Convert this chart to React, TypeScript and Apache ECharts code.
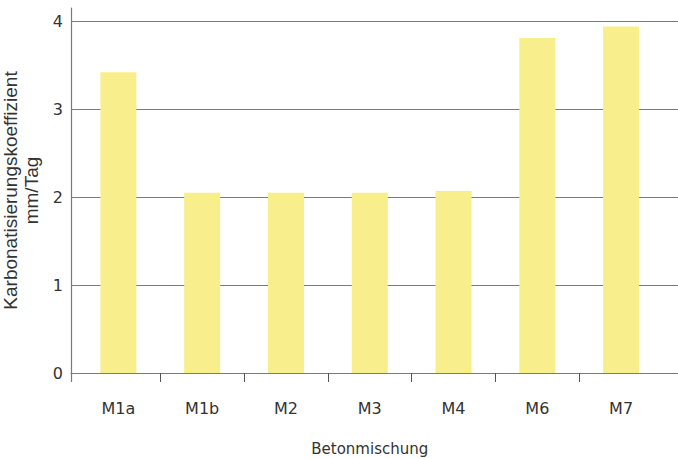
import React, { useEffect, useRef } from "react";
import * as echarts from "echarts";

const categories = ["M1a", "M1b", "M2", "M3", "M4", "M6", "M7"];
const values = [3.42, 2.05, 2.05, 2.05, 2.07, 3.81, 3.94];
const boundaryTicks = [0.5, 1.5, 2.5, 3.5, 4.5, 5.5];
const yTitle = "Karbonatisierungskoeffizient\nmm/Tag";
const xTitle = "Betonmischung";

const gray = "#7a7a7a";
const textColor = "#333";

export default function App() {
  const ref = useRef<HTMLDivElement>(null);
  useEffect(() => {
    const chart = echarts.init(ref.current!, null, { renderer: "svg" });
    chart.setOption({
      animation: false,
      backgroundColor: "#fff",
      grid: [
        { left: 76.5, width: 586.5, top: 8, height: 365, outerBoundsMode: "none", containLabel: false },
        { left: 71, width: 612, top: 8, height: 365, outerBoundsMode: "none", containLabel: false },
      ],
      xAxis: [
        {
          type: "category",
          gridIndex: 0,
          position: "bottom",
          data: categories,
          axisLine: { show: false },
          axisTick: { show: false },
          axisLabel: {
            margin: 27,
            color: textColor,
            fontSize: 16,
            fontFamily: "DejaVu Sans",
          },
          name: xTitle,
          nameLocation: "middle",
          nameGap: 68,
          nameTextStyle: { color: textColor, fontSize: 15, fontFamily: "DejaVu Sans" },
        },
        {
          type: "value",
          gridIndex: 0,
          position: "bottom",
          min: -0.5,
          max: 6.5,
          interval: 1,
          axisLine: { show: false },
          axisLabel: { show: true, formatter: () => "" },
          splitLine: { show: false },
          axisTick: {
            show: true,
            inside: false,
            length: 9,
            customValues: boundaryTicks,
            lineStyle: { color: "#555", width: 1 },
          },
        },
        {
          type: "value",
          gridIndex: 1,
          position: "bottom",
          min: 0,
          max: 1,
          interval: 1,
          axisLine: { show: true, lineStyle: { color: gray, width: 1.2 } },
          axisLabel: { show: true, formatter: () => "" },
          splitLine: { show: false },
          axisTick: { show: true, length: 9, customValues: [0], lineStyle: { color: gray, width: 1.2 } },
        },
      ],
      yAxis: [
        {
          type: "value",
          gridIndex: 0,
          min: 0,
          max: 4.15,
          show: false,
        },
        {
          type: "value",
          gridIndex: 1,
          min: 0,
          max: 4.15,
          interval: 1,
          axisLine: { show: true, lineStyle: { color: gray, width: 1.2 } },
          axisTick: { show: false },
          axisLabel: {
            margin: 8,
            color: textColor,
            fontSize: 16,
            fontFamily: "DejaVu Sans",
            showMaxLabel: false,
          },
          splitLine: {
            show: true,
            showMinLine: false,
            showMaxLine: false,
            lineStyle: { color: gray, width: 1.2 },
          },
          name: yTitle,
          nameLocation: "middle",
          nameGap: 23,
          nameTextStyle: {
            color: textColor,
            fontSize: 19,
            fontFamily: "Liberation Sans",
            lineHeight: 21,
            align: "center",
          },
        },
      ],
      series: [
        {
          type: "bar",
          xAxisIndex: 0,
          yAxisIndex: 0,
          data: values,
          barWidth: 36,
          itemStyle: { color: "#f8ee8c" },
        },
      ],
    });
    return () => chart.dispose();
  }, []);
  return (
    <div
      ref={ref}
      style={{ position: "absolute", left: 0, top: 0, width: 678, height: 459 }}
    />
  );
}
